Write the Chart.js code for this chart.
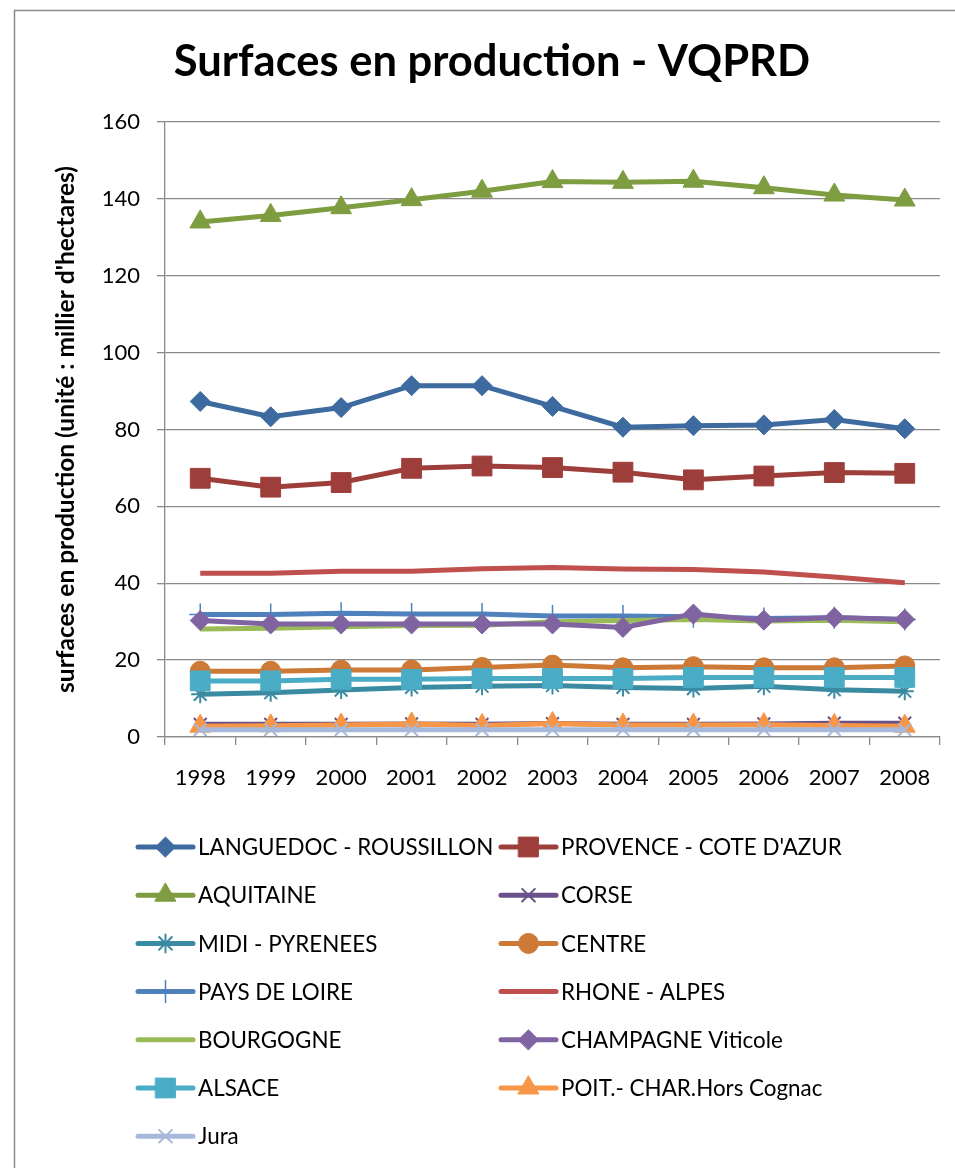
<!DOCTYPE html>
<html>
<head>
<meta charset="utf-8">
<script src="https://cdn.jsdelivr.net/npm/chart.js@4/dist/chart.umd.min.js"></script>
<style>
html,body{margin:0;padding:0;background:#fff;}
canvas{display:block;}
</style>
</head>
<body>
<canvas id="c" width="955" height="1168" style="width:955px;height:1168px"></canvas>
<script>
const years = ["1998","1999","2000","2001","2002","2003","2004","2005","2006","2007","2008"];
const yTicks = [0,20,40,60,80,100,120,140,160];

const languedoc = [87.3, 83.3, 85.7, 91.4, 91.4, 86.0, 80.6, 81.0, 81.2, 82.6, 80.2];
const provence  = [67.3, 65.0, 66.2, 69.9, 70.5, 70.1, 68.9, 66.9, 67.9, 68.8, 68.6];
const aquitaine = [134.0, 135.7, 137.7, 139.8, 142.0, 144.5, 144.3, 144.6, 142.9, 141.0, 139.7];
const corse     = [3.3, 3.3, 3.3, 3.4, 3.3, 3.5, 3.3, 3.3, 3.4, 3.6, 3.6];
const midi      = [11.1, 11.5, 12.2, 12.9, 13.2, 13.4, 12.9, 12.6, 13.2, 12.3, 11.9];
const centre    = [17.1, 17.1, 17.4, 17.4, 18.1, 18.7, 18.0, 18.3, 18.0, 18.0, 18.5];
const paysLoire = [31.9, 31.9, 32.2, 32.0, 32.0, 31.5, 31.5, 31.3, 30.8, 31.0, 30.6];
const rhone     = [42.6, 42.6, 43.1, 43.1, 43.8, 44.1, 43.7, 43.6, 42.9, 41.6, 40.1];
const bourgogne = [28.1, 28.3, 28.7, 29.0, 29.1, 30.0, 30.3, 30.6, 30.2, 30.4, 30.0];
const champagne = [30.3, 29.4, 29.4, 29.4, 29.4, 29.4, 28.5, 32.0, 30.4, 31.1, 30.6];
const alsace    = [14.6, 14.6, 15.0, 15.0, 15.2, 15.2, 15.2, 15.5, 15.5, 15.5, 15.5];
const poit      = [2.8, 2.9, 3.1, 3.4, 3.0, 3.5, 3.1, 3.1, 3.2, 3.0, 2.8];
const jura      = [1.9, 1.9, 1.9, 1.9, 1.9, 1.9, 1.9, 1.9, 1.9, 1.9, 1.9];

const seriesNames = ["LANGUEDOC - ROUSSILLON","PROVENCE - COTE D'AZUR","AQUITAINE","CORSE","MIDI - PYRENEES","CENTRE","PAYS DE LOIRE","RHONE - ALPES","BOURGOGNE","CHAMPAGNE Viticole","ALSACE","POIT.- CHAR.Hors Cognac","Jura"];
const seriesValues = [languedoc, provence, aquitaine, corse, midi, centre, paysLoire, rhone, bourgogne, champagne, alsace, poit, jura];

const styles = [
  {color:'#3D6A9F', point:'rectRot', r:10, bw:1},
  {color:'#9E3E3B', point:'rect', r:14, bw:1},
  {color:'#7E9C40', point:'triangle', r:12, bw:1},
  {color:'#6A5189', point:'crossRot', r:9, bw:2},
  {color:'#3A8BA1', point:'star', r:9, bw:2},
  {color:'#CC7A36', point:'circle', r:10, bw:1},
  {color:'#4F81BD', point:'cross', r:11, bw:1.5},
  {color:'#C0504D', point:false, r:0, bw:0},
  {color:'#9BBB59', point:false, r:0, bw:0},
  {color:'#8064A2', point:'rectRot', r:10, bw:1},
  {color:'#4BACC6', point:'rect', r:14, bw:1},
  {color:'#F79646', point:'triangle', r:12, bw:1},
  {color:'#A7B9DB', point:'crossRot', r:9, bw:2}
];

const FONT = 'Lato, "Open Sans", "DejaVu Sans", sans-serif';

const datasets = seriesNames.map((name, i) => ({
  label: name,
  data: seriesValues[i],
  borderColor: styles[i].color,
  backgroundColor: styles[i].color,
  borderWidth: 5,
  pointStyle: styles[i].point,
  pointRadius: styles[i].r,
  pointHoverRadius: styles[i].r,
  pointBorderWidth: styles[i].bw,
  pointBackgroundColor: styles[i].color,
  pointBorderColor: styles[i].color,
  tension: 0,
  order: seriesNames.length - i
}));

const frameAndText = {
  id: 'frameAndText',
  beforeDraw(chart) {
    const ctx = chart.ctx;
    ctx.save();
    ctx.fillStyle = '#ffffff';
    ctx.fillRect(0, 0, chart.width, chart.height);
    ctx.strokeStyle = '#8a8a8a';
    ctx.lineWidth = 1.5;
    ctx.beginPath();
    ctx.moveTo(14.5, chart.height + 5);
    ctx.lineTo(14.5, 10.5);
    ctx.lineTo(chart.width + 5, 10.5);
    ctx.stroke();
    ctx.fillStyle = '#000';
    ctx.font = 'bold 43.5px ' + FONT;
    ctx.textAlign = 'center';
    ctx.textBaseline = 'middle';
    ctx.fillText('Surfaces en production - VQPRD', 492, 62);
    ctx.restore();
  },
  afterDraw(chart) {
    const ctx = chart.ctx;
    ctx.save();
    const cols = [138, 501];
    const rowY0 = 847, rowDy = 48.2;
    chart.data.datasets.forEach((ds, i) => {
      const col = i % 2, row = Math.floor(i / 2);
      const x0 = cols[col];
      const y = rowY0 + row * rowDy;
      ctx.strokeStyle = ds.borderColor;
      ctx.lineWidth = 5;
      ctx.lineCap = 'round';
      ctx.beginPath();
      ctx.moveTo(x0, y);
      ctx.lineTo(x0 + 55, y);
      ctx.stroke();
      if (ds.pointStyle) {
        ctx.fillStyle = ds.pointBackgroundColor;
        ctx.strokeStyle = ds.pointBorderColor;
        ctx.lineWidth = ds.pointBorderWidth;
        Chart.helpers.drawPoint(ctx, {pointStyle: ds.pointStyle, radius: ds.pointRadius, rotation: 0, borderWidth: ds.pointBorderWidth}, x0 + 27.5, y);
      }
      ctx.fillStyle = '#000';
      ctx.font = '22.4px ' + FONT;
      ctx.textAlign = 'left';
      ctx.textBaseline = 'middle';
      ctx.fillText(ds.label, x0 + 60, y + 1);
    });
    ctx.restore();
  }
};

new Chart(document.getElementById('c'), {
  type: 'line',
  data: { labels: years, datasets },
  options: {
    responsive: false,
    animation: false,
    devicePixelRatio: 1,
    layout: { padding: { left: 0, top: 122, right: 11, bottom: 371 } },
    plugins: {
      legend: { display: false },
      title: { display: false },
      tooltip: { enabled: false }
    },
    scales: {
      x: {
        offset: true,
        grid: { offset: true, drawOnChartArea: false, drawTicks: true, tickLength: 8, color: '#8a8a8a', lineWidth: 1.3 },
        border: { color: '#8a8a8a', width: 1.3 },
        ticks: { color: '#000', font: { family: FONT, size: 22 }, padding: 20, maxRotation: 0, autoSkip: false },
        afterFit(scale) { scale.height = 60; }
      },
      y: {
        min: 0, max: 160,
        afterBuildTicks(scale) { scale.ticks = yTicks.map(v => ({ value: v })); },
        grid: { color: '#8a8a8a', lineWidth: 1.3, tickLength: 8, drawTicks: true },
        border: { color: '#8a8a8a', width: 1.3 },
        ticks: { color: '#000', font: { family: FONT, size: 22 }, padding: 17 },
        title: {
          display: true,
          text: "surfaces en production (unité : millier d'hectares)",
          color: '#000',
          font: { family: FONT, size: 24.5, weight: 'bold' },
          padding: { top: 51, bottom: 0 }
        },
        afterFit(scale) { scale.width = 165; }
      }
    }
  },
  plugins: [frameAndText]
});
</script>
</body>
</html>
